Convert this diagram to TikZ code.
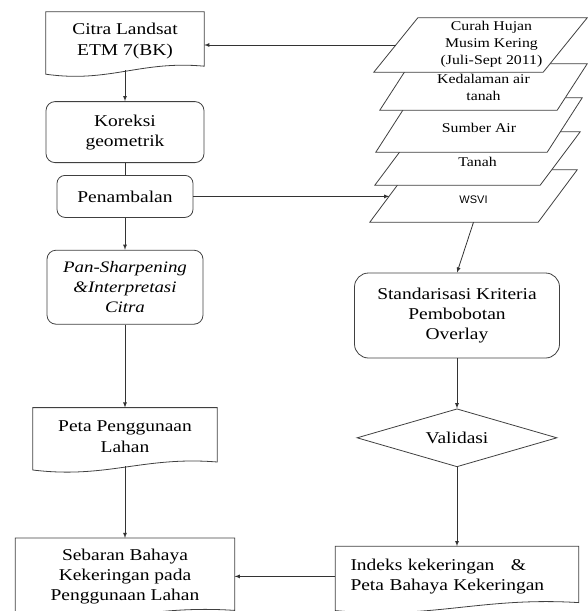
\documentclass[tikz,border=0pt]{standalone}
\usepackage{fontspec}
\setmainfont{Liberation Serif}[FakeStretch=1.18]
\setsansfont{Liberation Sans}
\usetikzlibrary{positioning,shapes.geometric,calc}

% outline with a wavy bottom for the document boxes
\newcommand{\docshape}[1]{%
  \draw[boxline] (#1.north west) -- ([yshift=-4pt]#1.south west)
    .. controls ($(#1.south west)!0.4!(#1.south east)+(0,-13pt)$) and ($(#1.south west)!0.6!(#1.south east)+(0,10pt)$) .. ([yshift=4pt]#1.south east)
    -- (#1.north east) -- cycle;}
% slanted outline of a data layer (#2 = slant)
\newcommand{\layershape}[2]{%
  \draw[boxline, fill=white] (#1.south west) -- ([xshift=-#2]#1.south east)
    -- (#1.north east) -- ([xshift=#2]#1.north west) -- cycle;}

\begin{document}
\begin{tikzpicture}[x=1pt, y=-1pt]
% Styles
\tikzstyle{boxline} = [draw=black!75, line width=0.8pt]
\tikzstyle{doc} = [rectangle, minimum width=158pt, minimum height=58pt, align=center, inner sep=2pt, font=\fontsize{16.5}{21}\selectfont]
\tikzstyle{process} = [rectangle, boxline, rounded corners=9pt, minimum width=158pt, minimum height=61pt, align=center, font=\fontsize{16.5}{20}\selectfont]
\tikzstyle{layer} = [rectangle, minimum width=207pt, minimum height=53pt, inner sep=0pt]
\tikzstyle{layertext} = [align=center, inner sep=1pt, font=\fontsize{13.4}{17}\selectfont]
\tikzstyle{decision} = [diamond, aspect=3.4, boxline, minimum width=200pt, minimum height=58pt, inner sep=0pt, font=\fontsize{16.5}{20}\selectfont]
\tikzstyle{arrow} = [draw=black!80, line width=0.8pt, ->, >=latex]
\tikzstyle{link} = [draw=black!80, line width=0.8pt]

\useasboundingbox (0,0) rectangle (588,611);

% Nodes
\node (cit) [doc] at (125,41) {Citra Landsat\\ETM 7(BK)};
\node (kor) [process, below=31pt of cit] {Koreksi\\geometrik};
\node (pen) [process, below=12pt of kor, minimum width=136pt, minimum height=42pt, rounded corners=8pt] {Penambalan};
\node (pan) [process, below=32pt of pen, minimum width=156pt, minimum height=74pt, font=\fontsize{16}{20}\selectfont\itshape] {Pan-Sharpening\\\&Interpretasi\\Citra};
\node (peta) [doc, below=83pt of pan, minimum width=184pt] {Peta Penggunaan\\Lahan};
\node (seb) [doc, below=72pt of peta, minimum width=219pt, minimum height=76pt, font=\fontsize{16.5}{20}\selectfont] {Sebaran Bahaya\\Kekeringan pada\\Penggunaan Lahan};

% data layers, lowest first
\node (wsvi) [layer, minimum height=52pt] at (473.5,196) {};
\layershape{wsvi}{39pt}
\node (wsvi-t) [layertext, font=\sffamily\fontsize{11}{13}\selectfont] at ([yshift=-4pt]wsvi.center) {WSVI};
\node (tan) [layer, minimum width=205pt] at (477.5,158.5) {};
\layershape{tan}{40pt}
\node (tan-t) [layertext] at ([yshift=-3pt]tan.center) {Tanah};
\node (sum) [layer, minimum width=206pt, minimum height=54pt] at (479,125) {};
\layershape{sum}{35pt}
\node (sum-t) [layertext] at ([yshift=-3pt]sum.center) {Sumber Air};
\node (ked) [layer, minimum height=46pt] at (483.5,87) {};
\layershape{ked}{30pt}
\node (ked-t) [layertext] at (ked) {Kedalaman air\\tanah};
\node (cur) [layer, minimum width=213pt, minimum height=54pt] at (480.5,45) {};
\layershape{cur}{44pt}
\node (cur-t) [layertext] at ([xshift=11pt, yshift=1pt]cur.center) {Curah Hujan\\Musim Kering\\(Juli-Sept 2011)};

\node (std) [process, minimum width=205pt, minimum height=85pt, rounded corners=14pt] at (457,315.5) {Standarisasi Kriteria\\Pembobotan\\Overlay};
\node (val) [decision, below=50pt of std] {Validasi};
\node (ind) [doc, below=79pt of val, minimum width=243pt, minimum height=60pt, text width=213pt, align=left, font=\fontsize{16.5}{20}\selectfont] {Indeks kekeringan\quad\&\\Peta Bahaya Kekeringan};

\docshape{cit}
\docshape{peta}
\docshape{seb}
\docshape{ind}

\coordinate (cur-in) at ([xshift=22pt]cur.west);
\coordinate (wsvi-in) at ([xshift=19.5pt]wsvi.west);

% Arrows
\draw [arrow] (cur-in) -- (cur-in -| cit.east);
\draw [arrow] (cit) -- (kor);
\draw [link] (kor) -- (pen);
\draw [arrow] (pen.east) -- (pen.east -| wsvi-in);
\draw [arrow] (pen) -- (pan);
\draw [arrow] (pan) -- (peta);
\draw [arrow] (peta) -- (seb);
\draw [arrow] (wsvi.south) -- (std.north);
\draw [arrow] (std) -- (val);
\draw [arrow] (val) -- (ind);
\draw [arrow] (ind.west) -- (ind.west -| seb.east);

\end{tikzpicture}
\end{document}
